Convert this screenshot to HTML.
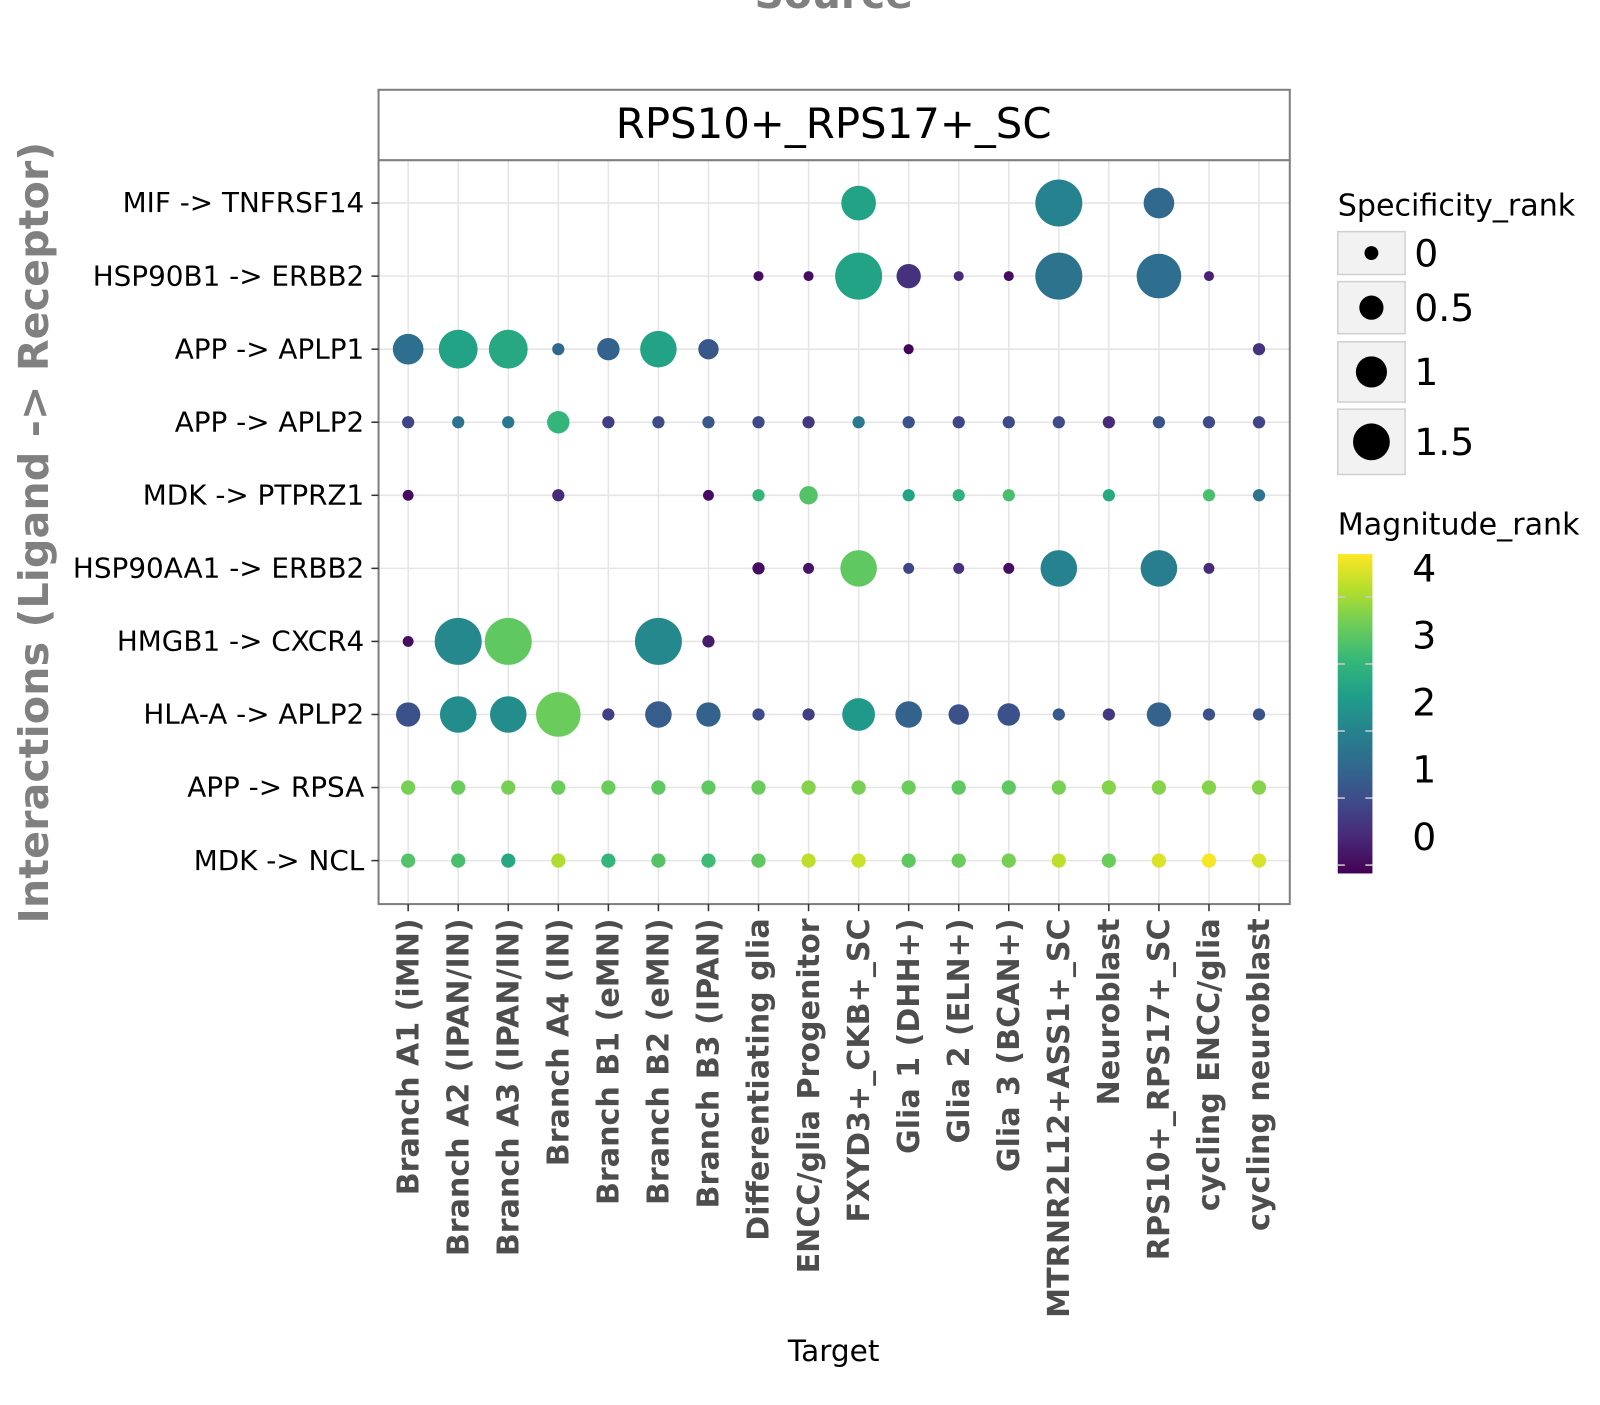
<!DOCTYPE html>
<html><head><meta charset="utf-8"><style>
body{margin:0;background:#fff;}
svg text{font-family:"DejaVu Sans","Liberation Sans",sans-serif;}
</style></head><body>
<svg id="chart" width="1600" height="1400" xmlns="http://www.w3.org/2000/svg">
<rect width="1600" height="1400" fill="#fff"/>
<g transform="scale(1.0204)">
<text x="817" y="8" text-anchor="middle" font-size="40" font-weight="bold" fill="#808080">Source</text>
<text transform="translate(47,522) rotate(-90)" text-anchor="middle" font-size="40.5" font-weight="bold" fill="#808080">Interactions (Ligand -&gt; Receptor)</text>
<text x="817" y="1334" text-anchor="middle" font-size="29" fill="#000">Target</text>
<g id="grid"></g>
<rect x="371" y="88" width="893" height="798" fill="none" stroke="#7f7f7f" stroke-width="2"/>
<line x1="371" y1="157" x2="1264" y2="157" stroke="#7f7f7f" stroke-width="2"/>
<text x="817" y="135" text-anchor="middle" font-size="41" fill="#000">RPS10+_RPS17+_SC</text>
<g id="dots"></g>
<g id="labels"></g>
<g id="legend"></g>
</g>
</svg>
<script>
const targets=["Branch A1 (iMN)","Branch A2 (IPAN/IN)","Branch A3 (IPAN/IN)","Branch A4 (IN)","Branch B1 (eMN)","Branch B2 (eMN)","Branch B3 (IPAN)","Differentiating glia","ENCC/glia Progenitor","FXYD3+_CKB+_SC","Glia 1 (DHH+)","Glia 2 (ELN+)","Glia 3 (BCAN+)","MTRNR2L12+ASS1+_SC","Neuroblast","RPS10+_RPS17+_SC","cycling ENCC/glia","cycling neuroblast"];
const interactions=["MIF -> TNFRSF14","HSP90B1 -> ERBB2","APP -> APLP1","APP -> APLP2","MDK -> PTPRZ1","HSP90AA1 -> ERBB2","HMGB1 -> CXCR4","HLA-A -> APLP2","APP -> RPSA","MDK -> NCL"];
// rows of [targetIndex, specificity, magnitude]
const rowMIF=[[9,2.6,2.2],[13,4.9,1.6],[15,2.0,1.1]];
const rowHSP90B1=[[7,0.08,-0.3],[8,0.08,-0.3],[9,4.9,2.2],[10,1.2,0.2],[11,0.08,0.1],[12,0.08,-0.3],[13,4.9,1.3],[15,4.4,1.2],[16,0.08,0.0]];
const rowAPLP1=[[0,2.0,1.2],[1,3.3,2.2],[2,3.3,2.3],[3,0.19,1.1],[4,1.0,1.0],[5,2.9,2.2],[6,0.8,0.8],[10,0.08,-0.4],[17,0.19,0.2]];
const rowAPLP2=[[0,0.19,0.5],[1,0.19,1.3],[2,0.19,1.4],[3,1.0,2.6],[4,0.19,0.4],[5,0.19,0.6],[6,0.19,0.8],[7,0.19,0.6],[8,0.19,0.3],[9,0.19,1.4],[10,0.19,0.7],[11,0.19,0.5],[12,0.19,0.6],[13,0.19,0.6],[14,0.19,0.1],[15,0.19,0.7],[16,0.19,0.6],[17,0.19,0.5]];
const rowPTPRZ1=[[0,0.12,-0.3],[3,0.19,0.1],[6,0.12,-0.3],[7,0.19,2.6],[8,0.62,2.9],[10,0.19,2.2],[11,0.19,2.5],[12,0.19,2.8],[14,0.19,2.3],[16,0.19,2.8],[17,0.19,1.3]];
const rowHSP90AA1=[[7,0.19,-0.3],[8,0.12,-0.2],[9,2.9,3.0],[10,0.12,0.5],[11,0.12,0.2],[12,0.12,-0.3],[13,2.9,1.6],[15,2.9,1.5],[16,0.12,0.1]];
const rowHMGB1=[[0,0.12,-0.3],[1,4.9,1.7],[2,4.9,3.0],[5,4.9,1.7],[6,0.19,-0.1]];
const rowHLA=[[0,1.2,0.7],[1,2.9,1.8],[2,2.9,1.8],[3,4.4,3.1],[4,0.19,0.4],[5,1.46,0.9],[6,1.2,1.0],[7,0.19,0.6],[8,0.19,0.4],[9,2.3,2.0],[10,1.46,1.0],[11,0.8,0.7],[12,1.0,0.7],[13,0.19,0.8],[14,0.19,0.3],[15,1.2,1.0],[16,0.19,0.7],[17,0.19,0.7]];
const rowRPSA=[[0,0.31,3.2],[1,0.31,3.1],[2,0.31,3.2],[3,0.31,3.1],[4,0.31,3.1],[5,0.31,3.0],[6,0.31,3.0],[7,0.31,3.1],[8,0.31,3.3],[9,0.31,3.2],[10,0.31,3.1],[11,0.31,3.0],[12,0.31,3.0],[13,0.31,3.2],[14,0.31,3.3],[15,0.31,3.3],[16,0.31,3.3],[17,0.31,3.3]];
const rowNCL=[[0,0.31,2.9],[1,0.31,2.8],[2,0.31,2.3],[3,0.31,3.6],[4,0.31,2.6],[5,0.31,2.9],[6,0.31,2.7],[7,0.31,3.0],[8,0.31,3.7],[9,0.31,3.8],[10,0.31,3.0],[11,0.31,3.1],[12,0.31,3.2],[13,0.31,3.7],[14,0.31,3.1],[15,0.31,3.9],[16,0.31,4.1],[17,0.31,3.9]];
const rows=[rowMIF,rowHSP90B1,rowAPLP1,rowAPLP2,rowPTPRZ1,rowHSP90AA1,rowHMGB1,rowHLA,rowRPSA,rowNCL];
const sizeLegendValues=[0,0.5,1,1.5];
const colorTicks=[4,3,2,1,0];

const NS="http://www.w3.org/2000/svg";
function mk(tag,attrs,parent){const e=document.createElementNS(NS,tag);for(const k in attrs)e.setAttribute(k,attrs[k]);parent.appendChild(e);return e;}
const xPos=i=>400+i*49.05;
const yPos=j=>199+j*71.6;
const rScale=s=>Math.sqrt(16+105*Math.max(s,0));
const legendR=s=>s<=0?6.8:Math.sqrt(48+185*s);
const vir=[[68,1,84],[72,40,120],[62,74,137],[49,104,142],[38,130,142],[31,158,137],[53,183,121],[109,205,89],[180,222,44],[253,231,37]];
function viridis(t){t=Math.max(0,Math.min(1,t));const p=t*(vir.length-1),i=Math.min(Math.floor(p),vir.length-2),f=p-i;const c=vir[i].map((v,k)=>Math.round(v+(vir[i+1][k]-v)*f));return `rgb(${c[0]},${c[1]},${c[2]})`;}
const cMin=-0.45,cMax=4.15;
const cScale=v=>viridis((v-cMin)/(cMax-cMin));

const grid=document.getElementById('grid');
targets.forEach((t,i)=>{const l=mk('line',{x1:xPos(i),x2:xPos(i),y1:157,y2:886,stroke:'#e5e5e5','stroke-width':1.5},grid);

});
interactions.forEach((t,j)=>{const l=mk('line',{x1:371,x2:1264,y1:yPos(j),y2:yPos(j),stroke:'#e5e5e5','stroke-width':1.5},grid);

});

const dots=document.getElementById('dots');
rows.forEach((row,j)=>row.forEach(d=>{const c=mk('circle',{cx:xPos(d[0]),cy:yPos(j),r:rScale(d[1]),fill:cScale(d[2])},dots);

}));

const labels=document.getElementById('labels');
interactions.forEach((t,j)=>{mk('line',{x1:364,x2:371,y1:yPos(j),y2:yPos(j),stroke:'#333','stroke-width':1.5},labels);
const e=mk('text',{x:357,y:yPos(j)+9,'text-anchor':'end','font-size':27.3,fill:'#000'},labels);e.textContent=t;

});
targets.forEach((t,i)=>{mk('line',{x1:xPos(i),x2:xPos(i),y1:886,y2:893,stroke:'#333','stroke-width':1.5},labels);
const e=mk('text',{transform:`translate(${xPos(i)+10},900) rotate(-90)`,'text-anchor':'end','font-size':29.5,'font-weight':'bold',fill:'#4d4d4d'},labels);e.textContent=t;

});

const lg=document.getElementById('legend');
const st=mk('text',{x:1311,y:211,'font-size':29.5,fill:'#000'},lg);st.textContent='Specificity_rank';


const boxes=[[227,42],[276,51],[335,59],[401,64]];
sizeLegendValues.forEach((v,k)=>{const [y,h]=boxes[k];
mk('rect',{x:1311,y:y,width:66,height:h,fill:'#f2f2f2',stroke:'#d0d0d0','stroke-width':1.5},lg);
const c=mk('circle',{cx:1344,cy:y+h/2,r:legendR(v),fill:'#000'},lg);


const t=mk('text',{x:1386,y:y+h/2+13,'font-size':37,fill:'#000'},lg);t.textContent=String(v);

});
const mt=mk('text',{x:1311,y:524,'font-size':29.5,fill:'#000'},lg);mt.textContent='Magnitude_rank';


const defs=mk('defs',{},lg);const grad=mk('linearGradient',{id:'vg',x1:0,y1:1,x2:0,y2:0},defs);
vir.forEach((c,k)=>mk('stop',{offset:k/(vir.length-1),'stop-color':`rgb(${c})`},grad));
const cb=mk('rect',{x:1311,y:543,width:34,height:313,fill:'url(#vg)'},lg);


colorTicks.forEach(v=>{const ly=557+(4-v)*65.7;const ty=ly+28;
mk('line',{x1:1311,x2:1318,y1:ty,y2:ty,stroke:'#ccc','stroke-width':1.5},lg);
mk('line',{x1:1338,x2:1345,y1:ty,y2:ty,stroke:'#ccc','stroke-width':1.5},lg);
const t=mk('text',{x:1384,y:ly+13,'font-size':37,fill:'#000'},lg);t.textContent=String(v);

});
</script>
</body></html>
